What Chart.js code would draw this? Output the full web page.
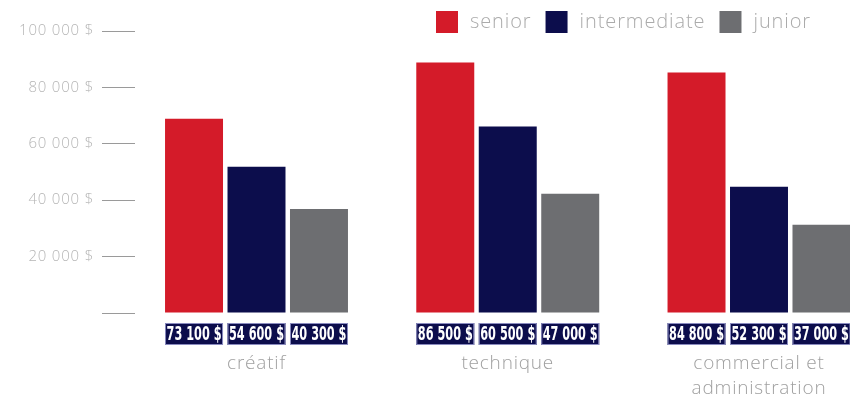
<!DOCTYPE html>
<html>
<head>
<meta charset="utf-8">
<script src="https://cdn.jsdelivr.net/npm/chart.js@4/dist/chart.umd.min.js"></script>
<style>
  html, body { margin: 0; padding: 0; background: #fff; }
  #wrap { position: relative; width: 850px; height: 399px; }
</style>
</head>
<body>
<div id="wrap"><canvas id="salaires"></canvas></div>
<script>
// categories and series (bar heights as drawn, printed amounts as labelled)
const categories = ['créatif', 'technique', ['commercial et', 'administration']];
const seriesNames = ['senior', 'intermediate', 'junior'];
const seriesColors = ['#d41b29', '#0c0d4c', '#6d6e71'];

const senior = [68900, 88800, 85300];
const intermediate = [51900, 66100, 44800];
const junior = [36900, 42300, 31300];

const seniorLabels = ['73 100 $', '86 500 $', '84 800 $'];
const intermediateLabels = ['54 600 $', '60 500 $', '52 300 $'];
const juniorLabels = ['40 300 $', '47 000 $', '37 000 $'];

const yTicks = [0, 20000, 40000, 60000, 80000, 100000];

const GREY_TEXT = '#ababab';
const LIGHT_FONT = '"Open Sans", "Lato", sans-serif';

function fmtMoney(v) {
  return String(v).replace(/\B(?=(\d{3})+(?!\d))/g, ' ') + ' $';
}

// the original uses a wide geometric face, so open the tracking a little
const wideText = {
  id: 'wideText',
  beforeDraw(chart) {
    chart.ctx.letterSpacing = '0.8px';
  }
};

// boxes with the printed amounts under each bar
const amountBoxes = {
  id: 'amountBoxes',
  afterDatasetsDraw(chart) {
    const ctx = chart.ctx;
    const top = chart.chartArea.bottom + 10;
    const h = 22;
    chart.data.datasets.forEach((ds, di) => {
      const meta = chart.getDatasetMeta(di);
      meta.data.forEach((bar, i) => {
        const w = bar.width;
        const x0 = bar.x - w / 2;
        ctx.save();
        ctx.letterSpacing = '0px';
        ctx.fillStyle = '#0c0d4c';
        ctx.fillRect(x0, top, w, h);
        ctx.strokeStyle = '#8a8bbf';
        ctx.lineWidth = 1;
        ctx.strokeRect(x0 + 0.5, top + 0.5, w - 1, h - 1);
        ctx.font = 'bold 20px "DejaVu Sans Condensed", "DejaVu Sans", sans-serif';
        ctx.fillStyle = '#ffffff';
        ctx.textBaseline = 'middle';
        ctx.textAlign = 'center';
        const txt = ds.amounts[i];
        const tw = ctx.measureText(txt).width;
        const sx = Math.min(1, (w - 3) / tw);
        ctx.translate(bar.x, top + h / 2 + 1);
        ctx.scale(sx, 1);
        ctx.fillText(txt, 0, 0);
        ctx.restore();
      });
    });
  }
};

// legend drawn in the top-right corner, above the plot area
const topLegend = {
  id: 'topLegend',
  afterDraw(chart) {
    const ctx = chart.ctx;
    let x = 436;
    const y = 11;
    const size = 22;
    ctx.save();
    ctx.letterSpacing = '0.9px';
    ctx.font = '300 20px ' + LIGHT_FONT;
    ctx.textBaseline = 'middle';
    ctx.textAlign = 'left';
    chart.data.datasets.forEach(ds => {
      ctx.fillStyle = ds.backgroundColor;
      ctx.fillRect(x, y, size, size);
      x += size + 12;
      ctx.fillStyle = GREY_TEXT;
      ctx.fillText(ds.label, x, y + size / 2);
      x += ctx.measureText(ds.label).width + 14;
    });
    ctx.restore();
  }
};

const seriesValues = [senior, intermediate, junior];
const seriesAmounts = [seniorLabels, intermediateLabels, juniorLabels];

new Chart(document.getElementById('salaires'), {
  type: 'bar',
  data: {
    datasets: seriesNames.map((name, s) => ({
      label: name,
      data: seriesValues[s].map((v, i) => ({ x: i, y: v })),
      amounts: seriesAmounts[s],
      backgroundColor: seriesColors[s],
      borderWidth: 0,
      categoryPercentage: 0.746,
      barPercentage: 0.928
    }))
  },
  options: {
    responsive: true,
    maintainAspectRatio: false,
    animation: false,
    layout: { padding: { top: 31, right: 0, bottom: 0, left: 0 } },
    plugins: {
      legend: { display: false },
      tooltip: { enabled: false }
    },
    scales: {
      x: {
        type: 'linear',
        offset: false,
        min: -0.4836,
        max: 2.3622,
        afterFit: (scale) => { scale.height = 86; },
        // invisible tick marks push the category names below the amount boxes
        grid: {
          display: true,
          drawOnChartArea: false,
          drawTicks: true,
          tickLength: 38,
          color: 'rgba(0,0,0,0)',
          offset: false
        },
        border: { display: false },
        ticks: {
          stepSize: 1,
          includeBounds: false,
          autoSkip: false,
          maxRotation: 0,
          padding: 0,
          color: '#a0a0a0',
          font: { family: LIGHT_FONT, size: 19, weight: 300, lineHeight: 1.32 },
          callback: (v) => categories[v]
        }
      },
      y: {
        min: 0,
        max: 100000,
        afterFit: (scale) => { scale.width = 135; },
        afterBuildTicks: (scale) => { scale.ticks = yTicks.map(v => ({ value: v })); },
        grid: {
          drawOnChartArea: false,
          drawTicks: true,
          tickLength: 33,
          color: '#9a9a9a',
          lineWidth: 1
        },
        border: { display: false },
        ticks: {
          padding: 8,
          color: '#b5b5b5',
          font: { family: LIGHT_FONT, size: 15, weight: 300 },
          callback: (v) => v === 0 ? '' : fmtMoney(v)
        }
      }
    }
  },
  plugins: [wideText, amountBoxes, topLegend]
});
</script>
</body>
</html>
